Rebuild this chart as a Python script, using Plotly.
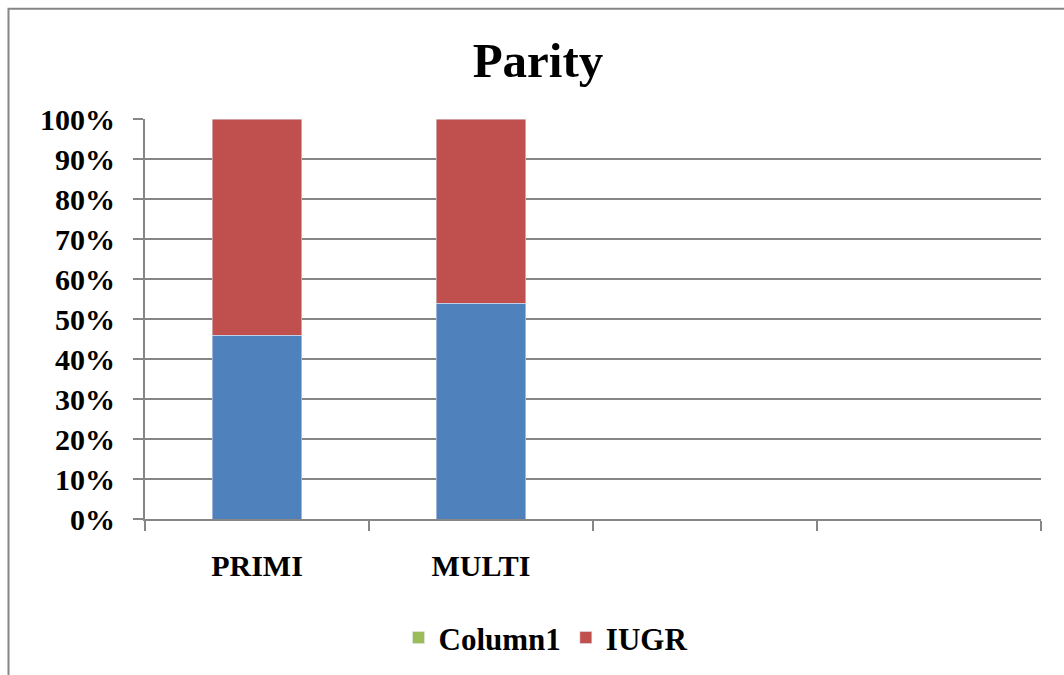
import plotly.graph_objects as go

# Parity categories (two empty slots keep the four-column layout)
positions = [0, 1, 2, 3]
categories = ["PRIMI", "MULTI", "", ""]
normal_pct = [46, 54, None, None]
column1_pct = [None, None, None, None]
iugr_pct = [54, 46, None, None]
y_ticks = [0, 10, 20, 30, 40, 50, 60, 70, 80, 90, 100]
y_tick_text = [f"{v}%" for v in y_ticks]

BLUE = "#4F81BD"
GREEN = "#9BBB59"
RED = "#C0504D"
GRID = "#868686"
FONT = "Liberation Serif"

fig = go.Figure()
fig.add_trace(go.Bar(x=positions, y=normal_pct, marker_color=BLUE,
                     width=0.4, showlegend=False, name="Normal"))
fig.add_trace(go.Bar(x=positions, y=column1_pct, marker_color=GREEN,
                     width=0.4, name="<b>Column1</b>"))
fig.add_trace(go.Bar(x=positions, y=iugr_pct, marker_color=RED,
                     width=0.4, name="<b>IUGR</b>"))

fig.update_layout(
    barmode="stack",
    width=1064, height=675,
    margin=dict(l=145, r=23, t=119, b=155),
    paper_bgcolor="white", plot_bgcolor="white",
    font=dict(family=FONT, color="black"),
    title=dict(text="<b>Parity</b>", xref="container", x=538 / 1064,
               xanchor="center", y=1 - 60 / 675, yanchor="middle",
               font=dict(size=49, family=FONT)),
    legend=dict(orientation="h", x=0.447, xanchor="center",
                y=-0.294, yanchor="middle",
                font=dict(size=31, family=FONT), traceorder="normal",
                itemwidth=30),
    xaxis=dict(range=[-0.5, 3.5], tickvals=positions[:2],
               ticktext=[f"<b>{c}</b>" for c in categories[:2]],
               ticks="", showgrid=False, zeroline=False,
               showline=True, linecolor=GRID, linewidth=2,
               tickfont=dict(size=30, family=FONT),
               ticklabelstandoff=19,
               minor=dict(tick0=-0.5, dtick=1, ticks="outside",
                          ticklen=10, tickcolor=GRID, tickwidth=2,
                          showgrid=False)),
    yaxis=dict(range=[0, 100], tickvals=y_ticks,
               ticktext=[f"<b>{t}</b>" for t in y_tick_text],
               ticks="outside", ticklen=10, tickcolor=GRID, tickwidth=2,
               showgrid=True, gridcolor=GRID, gridwidth=2,
               zeroline=False, showline=True, linecolor=GRID, linewidth=2,
               tickfont=dict(size=30, family=FONT),
               ticklabelstandoff=12),
)

# Outer chart frame
fig.add_shape(type="rect", xref="paper", yref="paper",
              x0=(8.5 - 145) / 896, x1=1.2, y0=-0.6, y1=(520 - 8.5) / 401,
              line=dict(color=GRID, width=2), fillcolor="rgba(0,0,0,0)",
              layer="below")

fig.write_html("out.html")
